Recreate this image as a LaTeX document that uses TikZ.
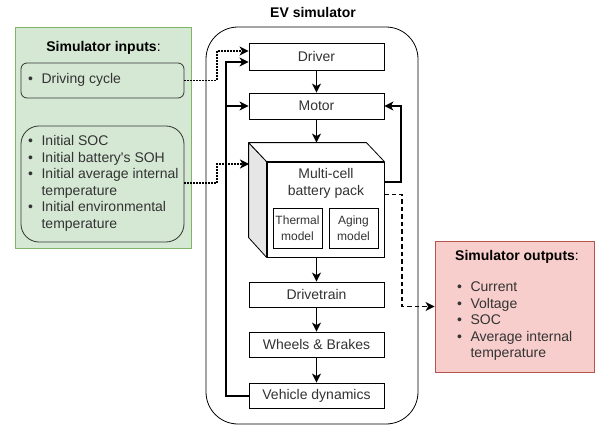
\documentclass[tikz,border=0pt]{standalone}
\usepackage{fontspec}
\setmainfont{Liberation Sans}[Ligatures=TeXOff]
\usetikzlibrary{arrows.meta,calc}
\definecolor{ingreen}{HTML}{D5E8D4}
\definecolor{ingreenline}{HTML}{82B366}
\definecolor{outred}{HTML}{F8CECC}
\definecolor{outredline}{HTML}{B85450}
\definecolor{txt}{HTML}{333333}
\definecolor{sideface}{HTML}{E6E6E6}
\newcommand{\mylist}[1]{\begin{tabular}{@{}l@{\hspace{8.5pt}}l@{}}#1\end{tabular}}
\tikzset{
  blockbox/.style={draw=black, line width=0.8pt, fill=white, minimum width=135pt, minimum height=26pt, inner sep=0pt, text=txt, font=\fontsize{14}{16.5}\selectfont},
  modelbox/.style={draw=black, line width=0.8pt, fill=white, minimum width=49pt, minimum height=40pt, inner sep=0pt, text=txt, align=center, font=\fontsize{12}{16}\selectfont},
  listtext/.style={inner sep=0pt, anchor=west, text=txt, font=\fontsize{14}{16.5}\selectfont},
  titletext/.style={inner sep=0pt, text=black, font=\fontsize{14}{16.5}\selectfont},
  flow/.style={line width=1.5pt, -{Stealth[length=9pt,width=9pt,inset=2.5pt]}},
  feedback/.style={line width=2pt, -{Stealth[length=9pt,width=9pt,inset=2.5pt]}},
  inputflow/.style={line width=1.6pt, dash pattern=on 1.6pt off 1.4pt, -{Stealth[length=9pt,width=9pt,inset=2.5pt]}},
  outputflow/.style={line width=1.5pt, dash pattern=on 4.5pt off 3pt, -{Stealth[length=9pt,width=9pt,inset=2.5pt]}},
}
\begin{document}
\begin{tikzpicture}[x=1pt,y=-1pt]
\useasboundingbox (0,0) rectangle (595,428);

% EV simulator container
\node[titletext, font=\fontsize{14}{16.5}\selectfont\bfseries] (evtitle) at (313,12) {EV simulator};
\draw[line width=0.8pt, fill=white, rounded corners=32pt] (206,27) rectangle (418,424);

% Inputs
\draw[ingreenline, line width=0.8pt, fill=ingreen] (15,27) rectangle (191,248);
\node[titletext] (intitle) at (103.5,48) {\textbf{Simulator inputs}:};
\node[draw=black!80, line width=0.8pt, fill=ingreen, rounded corners=6pt, minimum width=163pt, minimum height=35pt, inner sep=0pt] (dc) at (102.5,80.5) {};
\node[listtext] (dctext) at (28,80.5) {\mylist{\textbullet & Driving cycle}};
\node[draw=black!80, line width=0.8pt, fill=ingreen, rounded corners=18pt, minimum width=163pt, minimum height=116pt, inner sep=0pt] (init) at (102.5,184) {};
\node[listtext] (inittext) at (28,183.5) {\mylist{\textbullet & Initial SOC\\ \textbullet & Initial battery's SOH\\ \textbullet & Initial average internal\\ & temperature\\ \textbullet & Initial environmental\\ & temperature}};

% Outputs
\node[draw=outredline, line width=0.8pt, fill=outred, minimum width=159pt, minimum height=131pt, inner sep=0pt] (out) at (514.5,306.5) {};
\node[titletext, anchor=west] (outtitle) at (455,257) {\textbf{Simulator outputs}:};
\node[listtext] (outtext) at (457,321.5) {\mylist{\textbullet & Current\\ \textbullet & Voltage\\ \textbullet & SOC\\ \textbullet & Average internal\\ & temperature}};

% Blocks
\node[blockbox, minimum height=27pt] (driver) at (316.5,56.5) {Driver};
\node[blockbox] (motor) at (316.5,106) {Motor};
\node[blockbox, minimum height=25pt] (drivetrain) at (316.5,294.5) {Drivetrain};
\node[blockbox, minimum height=25pt] (wheels) at (316.5,344.5) {Wheels \& Brakes};
\node[blockbox, minimum height=25pt] (vd) at (316.5,395.5) {Vehicle dynamics};

% Battery cube
\node[draw=black, line width=0.8pt, fill=white, minimum width=117pt, minimum height=95pt, inner sep=0pt] (bat) at (325.5,209.5) {};
\draw[line width=0.8pt, fill=sideface, line join=round] (bat.north west) -- ++(-18,-19) -- ++(0,95) -- (bat.south west) -- cycle;
\draw[line width=0.8pt, fill=white, line join=round] (bat.north west) -- ++(-18,-19) -- ($(bat.north east)+(-18,-19)$) -- (bat.north east) -- cycle;
\node[inner sep=0pt, align=center, text=txt, font=\fontsize{14}{17}\selectfont] (battext) at (326,183.5) {Multi-cell\\battery pack};
\node[modelbox] (thermal) at (297.5,228) {Thermal\\model};
\node[modelbox] (aging) at (353.5,228) {Aging\\model};
\coordinate (battop) at ($(bat.north)+(-9,-19)$);

% Main flow
\draw[flow] (driver.south) -- (motor.north);
\draw[flow] (motor.south) -- (motor.south |- battop);
\draw[flow] (bat.south -| drivetrain.north) -- (drivetrain.north);
\draw[flow] (drivetrain.south) -- (wheels.north);
\draw[flow] (wheels.south) -- (vd.north);

% Feedback loops
\coordinate (fbx) at (226,0);
\draw[feedback] (vd.west) -- (vd.west -| fbx) -- ([yshift=-5.5pt]driver.west -| fbx) -- ([yshift=-5.5pt]driver.west);
\draw[feedback] (motor.west -| fbx) -- (motor.west);
\coordinate (rx) at (401,0);
\draw[feedback] ([yshift=27.5pt]bat.east) -- ([yshift=27.5pt]bat.east -| rx) -- (motor.east -| rx) -- (motor.east);

% Outputs flow
\coordinate (ox) at (402,0);
\draw[outputflow] ([yshift=15pt]bat.east) -- ([yshift=15pt]bat.east -| ox) -- (out.west -| ox) -- (out.west);

% Inputs flow
\coordinate (ix) at (217,0);
\draw[inputflow] (dc.east) -- (dc.east -| ix) -- ([yshift=5.5pt]driver.west -| ix) -- ([yshift=5.5pt]driver.west);
\coordinate (batinl) at (249,164);
\draw[inputflow] ([yshift=1pt]init.east) -- ([yshift=1pt]init.east -| ix) -- (batinl -| ix) -- (batinl);
\end{tikzpicture}
\end{document}
